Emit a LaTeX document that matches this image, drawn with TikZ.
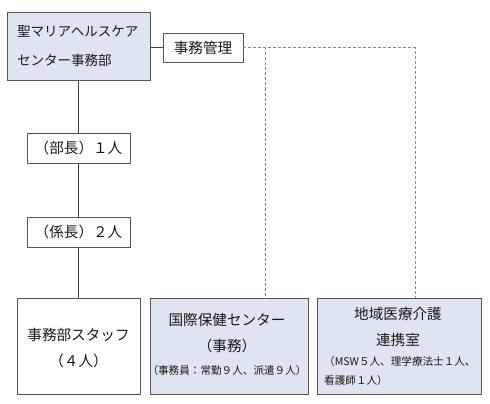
\documentclass[tikz,border=0pt]{standalone}
\usepackage{fontspec}
\setmainfont{Noto Sans CJK JP}
\definecolor{boxfill}{HTML}{DFE4F1}
\definecolor{boxline}{HTML}{555555}
\definecolor{dashline}{HTML}{8A8A8A}
\begin{document}
\begin{tikzpicture}[x=1pt,y=-1pt,
  box/.style={draw=boxline,line width=0.9pt,minimum width=#1,inner sep=0pt},
  lbl/.style={inner sep=0pt,font=\fontsize{14.6}{16}\selectfont,text=black!90},
  sml/.style={inner sep=0pt,font=\fontsize{10.6}{12}\selectfont,text=black!90},
  conn/.style={draw=black!75,line width=0.9pt},
  dconn/.style={draw=dashline,line width=0.8pt,dash pattern=on 3pt off 2pt}]
\useasboundingbox (0,0) rectangle (490,404);
% boxes
\node[box=143pt,minimum height=68pt,fill=boxfill] (top) at (78.5,46) {};
\node[lbl,anchor=west,font=\fontsize{13.5}{15}\selectfont] (t1) at (17,32) {聖マリアヘルスケア};
\node[lbl,anchor=west,font=\fontsize{13.5}{15}\selectfont] (t2) at (17,60) {センター事務部};
\node[box=80pt,minimum height=29pt,fill=white] (kanri) at (203,47.5) {};
\node[lbl] (kanrit) at (203,47.5) {事務管理};
\node[box=103pt,minimum height=30pt,fill=white] (bucho) at (78.5,148) {};
\node[lbl] (buchot) at (78.5,148) {（部長）１人};
\node[box=103pt,minimum height=30pt,fill=white] (kakari) at (78.5,232) {};
\node[lbl] (kakarit) at (78.5,232) {（係長）２人};
\node[box=123pt,minimum height=96pt,fill=white] (staff) at (78.5,346) {};
\node[lbl] (s1) at (78.5,335) {事務部スタッフ};
\node[lbl] (s2) at (78.5,361) {（４人）};
\node[box=158pt,minimum height=96pt,fill=boxfill] (kokusai) at (229,346) {};
\node[lbl] (k1) at (227,320) {国際保健センター};
\node[lbl] (k2) at (227,346) {（事務）};
\node[sml] (k3) at (227,370) {（事務員：常勤９人、派遣９人）};
\node[box=164pt,minimum height=96pt,fill=boxfill] (chiiki) at (399,346) {};
\node[lbl] (c1) at (398,314) {地域医療介護};
\node[lbl] (c2) at (398,340) {連携室};
\node[sml,anchor=west] (c3) at (324,361) {（MSW５人、理学療法士１人、};
\node[sml,anchor=west] (c4) at (324,380) {看護師１人）};
% connectors
\draw[conn] (top.east |- kanri.west) -- (kanri.west);
\draw[conn] (top.south) -- (bucho.north);
\draw[conn] (bucho.south) -- (kakari.north);
\draw[conn] (kakari.south) -- (staff.north);
\coordinate (d1) at (265,47.5);
\coordinate (d2) at (415,47.5);
\draw[dconn] (kanri.east) -- (d2) -- (d2 |- chiiki.north);
\draw[dconn] (d1) -- (d1 |- kokusai.north);
\end{tikzpicture}
\end{document}
